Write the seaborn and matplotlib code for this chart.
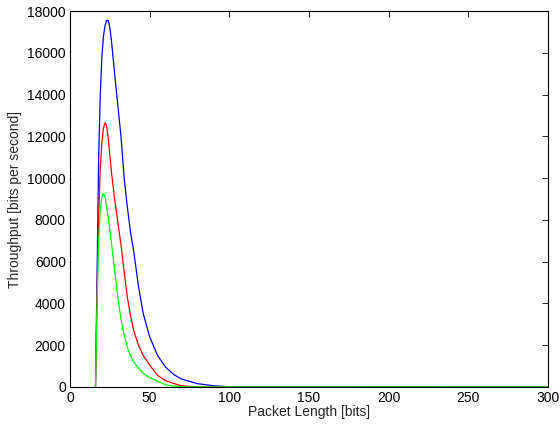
import pandas as pd
import matplotlib
matplotlib.use("Agg")
import matplotlib.pyplot as plt
import seaborn as sns

## values
packet_len = [16, 17, 18, 19, 20, 21, 22, 23, 24, 25, 26, 28, 30, 32, 34, 36, 38, 40,
              43, 46, 50, 55, 60, 65, 70, 80, 90, 100, 300]
thr_blue = [0, 5500, 11000, 14000, 15800, 16800, 17300, 17550, 17550, 17200, 16600, 15000,
            13500, 12000, 10000, 8600, 7400, 6500, 4800, 3500, 2400, 1500, 950, 600, 380,
            160, 60, 10, 0]
thr_red = [0, 4500, 8200, 10500, 11700, 12400, 12650, 12500, 11900, 11100, 10300, 9000,
           7900, 6800, 5500, 4300, 3400, 2700, 2000, 1500, 1050, 550, 300, 170, 60,
           5, 0, 0, 0]
thr_green = [0, 4000, 7000, 8500, 9100, 9265, 9100, 8600, 8100, 7500, 6900, 5600,
             4300, 3250, 2500, 1900, 1500, 1200, 900, 650, 450, 280, 100, 45, 15,
             0, 0, 0, 0]
series = {"blue": thr_blue, "red": thr_red, "green": thr_green}
colors = {"blue": "#0000ff", "red": "#ff0000", "green": "#00ff00"}

df = pd.concat([pd.DataFrame({"len": packet_len, "thr": v, "s": k})
                for k, v in series.items()], ignore_index=True)

sns.set_style("white")
plt.rcParams['font.family'] = ['Liberation Sans', 'DejaVu Sans']

fig = plt.figure(figsize=(5.6, 4.32), dpi=100)
ax = fig.add_axes([0.125, 0.1042, 0.8536, 0.8703])
sns.lineplot(data=df, x="len", y="thr", hue="s", palette=colors, legend=False,
             linewidth=0.9, ax=ax, sort=False, estimator=None)

ax.set_xlim(0, 300)
ax.set_ylim(0, 18000)
ax.set_xticks(range(0, 301, 50))
ax.set_yticks(range(0, 18001, 2000))
ax.tick_params(direction="in", top=True, right=True, length=4, width=0.6,
               labelsize=10, colors="black", pad=3)
for sp in ax.spines.values():
    sp.set_linewidth(0.8)
    sp.set_color("black")
ax.set_xlabel("Packet Length [bits]", fontsize=10, labelpad=0)
ax.set_ylabel("Throughput [bits per second]", fontsize=10, labelpad=4)

fig.savefig("out.png", dpi=100)
